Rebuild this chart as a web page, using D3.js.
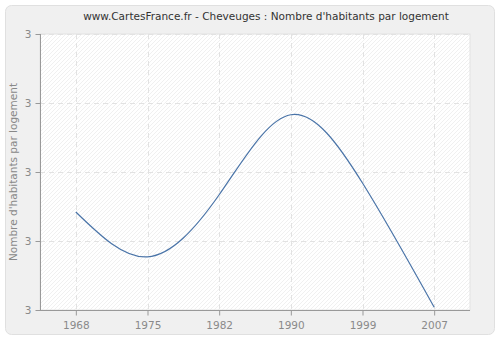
<!DOCTYPE html>
<html><head><meta charset="utf-8">
<script src="https://d3js.org/d3.v7.min.js"></script>
<style>body{margin:0;background:#fff;font-family:"DejaVu Sans",Verdana,sans-serif;}</style>
</head><body><svg id="c" width="500" height="340"></svg>
<script>
const years = ["1968","1975","1982","1990","1999","2007"];
const values = [2.942, 2.877, 2.967, 3.083, 2.984, 2.804];
const yTicks = [2.8, 2.9, 3.0, 3.1, 3.2];
const title = "www.CartesFrance.fr - Cheveuges : Nombre d'habitants par logement";
const yLabel = "Nombre d'habitants par logement";

const svg = d3.select("#c");
const m = {l:40, r:470, t:34, b:310};
svg.append("rect").attr("x",5.5).attr("y",5.5).attr("width",489).attr("height",329)
  .attr("rx",6).attr("fill","#f0f0f0").attr("stroke","#e0e0e0");

const defs = svg.append("defs");
const pat = defs.append("pattern").attr("id","hatch").attr("patternUnits","userSpaceOnUse")
  .attr("width",4).attr("height",4);
pat.append("rect").attr("width",4).attr("height",4).attr("fill","#ffffff");
pat.append("path").attr("d","M-1,1 l2,-2 M0,4 l4,-4 M3,5 l2,-2").attr("stroke","#ececec").attr("stroke-width",0.8);

svg.append("rect").attr("x",m.l).attr("y",m.t).attr("width",m.r-m.l).attr("height",m.b-m.t)
  .attr("fill","url(#hatch)").attr("stroke","#e2e2e2");

const x = d3.scalePoint().domain(years).range([m.l,m.r]).padding(0.5);
const y = d3.scaleLinear().domain([2.8,3.2]).range([m.b,m.t]);

// grid
svg.append("g").selectAll("line").data(yTicks.slice(1)).join("line")
  .attr("x1",m.l).attr("x2",m.r).attr("y1",d=>Math.round(y(d))+0.5).attr("y2",d=>Math.round(y(d))+0.5)
  .attr("stroke","#e2e2e2").attr("stroke-dasharray","5,4");
svg.append("g").selectAll("line").data(years).join("line")
  .attr("x1",d=>Math.round(x(d))+0.5).attr("x2",d=>Math.round(x(d))+0.5).attr("y1",m.t).attr("y2",m.b)
  .attr("stroke","#e2e2e2").attr("stroke-dasharray","5,4");

// axes
const gx = svg.append("g").attr("transform",`translate(0,${m.b+0.5})`)
  .call(d3.axisBottom(x).tickSize(5).tickPadding(6));
const gy = svg.append("g").attr("transform",`translate(${m.l+0.5},0)`)
  .call(d3.axisLeft(y).tickValues(yTicks).tickFormat(d3.format(".0f")).tickSize(5).tickPadding(4));
[gx,gy].forEach(g=>{
  g.select(".domain").attr("stroke","#999");
  g.selectAll(".tick line").attr("stroke","#999");
  g.selectAll(".tick text").attr("fill","#8a8a8a").attr("font-size",10.5).attr("font-family","DejaVu Sans, sans-serif");
});
gx.select(".domain").attr("d",`M${m.l},0H${m.r}`);
gy.select(".domain").attr("d",`M0,${m.b}V${m.t}`);

// line
svg.append("path").datum(values)
  .attr("d", d3.line().x((d,i)=>x(years[i])).y(d=>y(d)).curve(d3.curveNatural))
  .attr("fill","none").attr("stroke","#4a74a8").attr("stroke-width",1.2);

svg.append("text").attr("x",266).attr("y",20).attr("text-anchor","middle")
  .attr("font-size",10.5).attr("fill","#333").text(title);
svg.append("text").attr("transform",`translate(17,${(m.t+m.b)/2}) rotate(-90)`)
  .attr("text-anchor","middle").attr("font-size",10.5).attr("fill","#888").text(yLabel);
</script></body></html>
